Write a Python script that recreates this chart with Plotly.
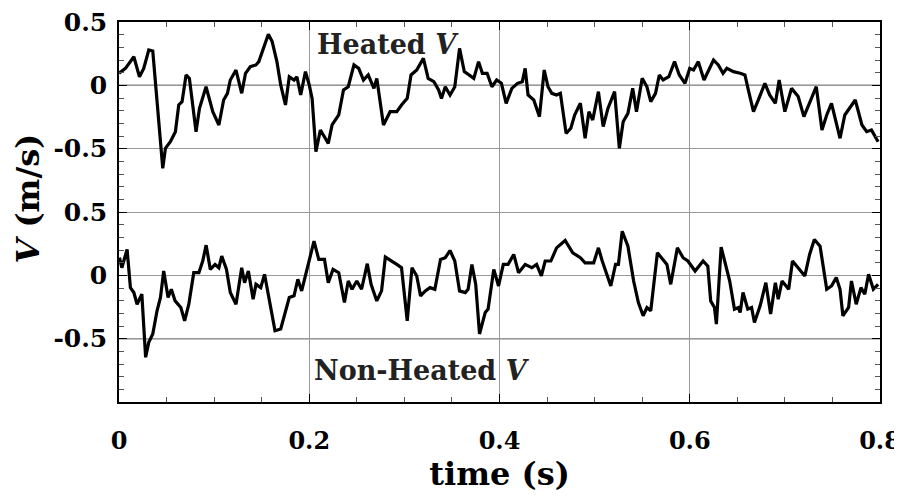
import plotly.graph_objects as go

# Heated V (top panel)
t_heated = [0.000, 0.0068, 0.0156, 0.0215, 0.026, 0.0313, 0.0355, 0.0383, 0.0418, 0.046,
            0.0488, 0.054, 0.0593, 0.0628, 0.0663, 0.0705, 0.074, 0.081, 0.0846, 0.0915,
            0.0986, 0.105, 0.110, 0.114, 0.117, 0.123, 0.129, 0.133, 0.138, 0.144,
            0.147, 0.150, 0.155, 0.157, 0.161, 0.166, 0.170, 0.175, 0.179, 0.184,
            0.187, 0.191, 0.196, 0.200, 0.203, 0.207, 0.2117, 0.215, 0.220, 0.224,
            0.228, 0.231, 0.236, 0.241, 0.247, 0.252, 0.257, 0.262, 0.268, 0.271,
            0.278, 0.285, 0.292, 0.297, 0.303, 0.307, 0.313, 0.320, 0.325, 0.331,
            0.336, 0.339, 0.343, 0.348, 0.353, 0.358, 0.363, 0.368, 0.373, 0.378,
            0.382, 0.387, 0.392, 0.397, 0.402, 0.407, 0.413, 0.419, 0.424, 0.427,
            0.430, 0.436, 0.442, 0.447, 0.451, 0.455, 0.460, 0.464, 0.470, 0.475,
            0.479, 0.485, 0.490, 0.494, 0.498, 0.504, 0.509, 0.514, 0.521, 0.526,
            0.530, 0.535, 0.540, 0.544, 0.550, 0.555, 0.559, 0.564, 0.568, 0.572,
            0.578, 0.584, 0.589, 0.595, 0.600, 0.604, 0.609, 0.615, 0.625, 0.630,
            0.635, 0.639, 0.646, 0.653, 0.658, 0.662, 0.667, 0.672, 0.679, 0.684,
            0.690, 0.694, 0.700, 0.707, 0.714, 0.720, 0.726, 0.733, 0.739, 0.744,
            0.749, 0.758, 0.763, 0.768, 0.774, 0.781, 0.786, 0.791, 0.798]
v_heated = [0.095, 0.134, 0.226, 0.068, 0.134, 0.279, 0.271, 0.029, -0.287, -0.655,
            -0.497, -0.445, -0.366, -0.155, -0.129, 0.082, 0.055, -0.366, -0.182, -0.011,
            -0.208, -0.313, -0.116, -0.063, 0.042, 0.121, -0.063, 0.095, 0.147, 0.161,
            0.187, 0.253, 0.371, 0.403, 0.345, 0.187, 0.003, -0.155, 0.068, 0.042,
            0.068, -0.076, 0.108, 0.003, -0.103, -0.524, -0.353, -0.392, -0.458, -0.313,
            -0.261, -0.234, -0.037, -0.011, 0.161, 0.134, 0.042, 0.082, -0.024, 0.055,
            -0.313, -0.208, -0.208, -0.155, -0.103, 0.082, 0.121, 0.213, 0.055, 0.029,
            -0.037, -0.103, -0.011, -0.076, -0.011, 0.292, 0.108, 0.082, 0.055, 0.187,
            0.095, 0.095, -0.011, 0.042, 0.016, -0.142, -0.024, 0.016, 0.029, 0.134,
            -0.076, -0.116, -0.247, 0.121, -0.011, -0.063, -0.076, -0.063, -0.379, -0.339,
            -0.234, -0.142, -0.418, -0.208, -0.274, -0.050, -0.326, -0.182, -0.050, -0.497,
            -0.287, -0.221, -0.024, -0.208, 0.055, -0.011, -0.129, -0.063, 0.082, 0.042,
            0.068, 0.187, 0.082, 0.016, 0.134, 0.121, 0.187, 0.042, 0.200, 0.161,
            0.095, 0.134, 0.108, 0.095, 0.082, -0.050, -0.208, -0.116, 0.016, -0.076,
            -0.142, 0.042, -0.208, -0.024, -0.089, -0.247, -0.142, -0.011, -0.353, -0.234,
            -0.142, -0.418, -0.234, -0.182, -0.116, -0.313, -0.366, -0.353, -0.445]

# Non-Heated V (bottom panel)
t_nonheated = [0.0005, 0.003, 0.0085, 0.012, 0.0156, 0.019, 0.024, 0.028, 0.0313, 0.0355,
               0.040, 0.0436, 0.047, 0.0516, 0.055, 0.059, 0.065, 0.069, 0.0734, 0.0786,
               0.084, 0.088, 0.0916, 0.096, 0.101, 0.105, 0.108, 0.113, 0.117, 0.123,
               0.129, 0.132, 0.136, 0.141, 0.144, 0.149, 0.153, 0.158, 0.164, 0.170,
               0.175, 0.179, 0.184, 0.188, 0.192, 0.197, 0.205, 0.210, 0.216, 0.220,
               0.225, 0.231, 0.237, 0.241, 0.245, 0.250, 0.255, 0.261, 0.265, 0.271,
               0.276, 0.280, 0.287, 0.292, 0.297, 0.303, 0.308, 0.313, 0.317, 0.322,
               0.327, 0.332, 0.338, 0.343, 0.348, 0.353, 0.358, 0.364, 0.367, 0.371,
               0.375, 0.379, 0.385, 0.388, 0.394, 0.399, 0.404, 0.409, 0.415, 0.420,
               0.427, 0.434, 0.439, 0.444, 0.448, 0.454, 0.460, 0.469, 0.477, 0.485,
               0.490, 0.499, 0.504, 0.508, 0.517, 0.522, 0.525, 0.529, 0.535, 0.541,
               0.546, 0.551, 0.555, 0.559, 0.566, 0.570, 0.576, 0.580, 0.587, 0.593,
               0.598, 0.6056, 0.614, 0.619, 0.622, 0.626, 0.628, 0.633, 0.637, 0.642,
               0.647, 0.651, 0.653, 0.656, 0.661, 0.665, 0.668, 0.674, 0.680, 0.685,
               0.690, 0.693, 0.697, 0.704, 0.708, 0.714, 0.721, 0.726, 0.731, 0.737,
               0.744, 0.749, 0.754, 0.758, 0.761, 0.767, 0.770, 0.775, 0.780, 0.784,
               0.788, 0.793, 0.798]
v_nonheated = [0.139, 0.060, 0.204, -0.097, -0.136, -0.228, -0.149, -0.647, -0.529, -0.463,
               -0.280, -0.175, 0.034, -0.175, -0.110, -0.202, -0.254, -0.359, -0.228, 0.021,
               0.021, 0.113, 0.238, 0.047, 0.086, 0.060, 0.152, 0.047, -0.136, -0.228,
               0.060, -0.058, 0.034, -0.189, -0.071, -0.097, 0.008, -0.202, -0.437, -0.424,
               -0.293, -0.175, -0.162, -0.031, -0.123, 0.034, 0.270, 0.126, 0.126, -0.058,
               0.047, 0.021, -0.215, -0.045, -0.110, -0.045, -0.110, 0.092, -0.071, -0.202,
               -0.123, 0.144, 0.113, 0.086, 0.060, -0.359, 0.060, -0.005, -0.162, -0.123,
               -0.097, -0.110, 0.126, 0.139, 0.196, 0.113, -0.123, -0.136, -0.110, 0.086,
               -0.071, -0.463, -0.293, -0.267, 0.047, -0.084, 0.086, 0.086, 0.165, 0.021,
               0.086, 0.060, 0.086, -0.005, 0.113, 0.113, 0.217, 0.275, 0.178, 0.139,
               0.099, 0.099, 0.217, 0.113, -0.084, 0.086, 0.086, 0.348, 0.230, -0.045,
               -0.215, -0.319, -0.254, -0.280, 0.178, 0.139, 0.086, -0.071, 0.217, 0.139,
               0.113, 0.034, 0.113, 0.073, -0.202, -0.254, -0.385, 0.223, 0.113, -0.045,
               -0.267, -0.254, -0.293, -0.136, -0.267, -0.254, -0.372, -0.241, -0.058, -0.306,
               -0.058, -0.189, -0.045, -0.110, 0.113, 0.060, -0.005, 0.165, 0.283, 0.230,
               -0.110, -0.084, -0.018, -0.110, -0.319, -0.254, -0.045, -0.228, -0.097, -0.149,
               0.008, -0.110, -0.071]

# Vertical offset used to stack the heated panel above the non-heated one
OFFSET = 1.5
y_tickvals = [2.0, 1.5, 1.0, 0.5, 0.0, -0.5]
y_ticktext = ["0.5", "0", "-0.5", "0.5", "0", "-0.5"]
x_tickvals = [0, 0.2, 0.4, 0.6, 0.8]
x_ticktext = ["0", "0.2", "0.4", "0.6", "0.8"]

FONT = "DejaVu Serif"
FS_XTICK = 24
FS_YTICK = 25
FS_TITLE = 32
FS_LABEL = 27

fig = go.Figure()
fig.add_trace(go.Scatter(x=t_heated, y=[v + OFFSET for v in v_heated], mode="lines",
                         line=dict(color="black", width=3.2), showlegend=False))
fig.add_trace(go.Scatter(x=t_nonheated, y=v_nonheated, mode="lines",
                         line=dict(color="black", width=3.2), showlegend=False))

# black reference lines (top zero and bottom -0.5)
for yv in (OFFSET, -0.5):
    fig.add_shape(type="line", xref="paper", x0=0, x1=1, yref="y", y0=yv, y1=yv,
                  line=dict(color="black", width=1.3), layer="below")

fig.add_annotation(x=0.283, y=1.826, xref="x", yref="y", text="Heated <i>V</i>",
                   showarrow=False, font=dict(family=FONT, size=FS_LABEL, color="#222", weight="bold"))
fig.add_annotation(x=0.318, y=-0.755, xref="x", yref="y", text="Non-Heated <i>V</i>",
                   showarrow=False, font=dict(family=FONT, size=FS_LABEL, color="#222", weight="bold"))
# y-axis title (placed slightly above the plot centre, as in the original)
fig.add_annotation(x=0, y=0.5355, xref="paper", yref="paper", xanchor="center", yanchor="middle",
                   xshift=-91, textangle=-90, text="<i>V</i> (m/s)", showarrow=False,
                   font=dict(family=FONT, size=FS_TITLE, color="black", weight="bold"))

fig.update_xaxes(range=[0, 0.8], tickvals=x_tickvals, ticktext=x_ticktext,
                 showgrid=True, gridcolor="#999999", gridwidth=1,
                 showline=True, linecolor="black", linewidth=1.5, mirror="ticks",
                 ticks="inside", ticklen=8, tickcolor="black",
                 minor=dict(tickmode="linear", tick0=0, dtick=0.05, ticks="inside",
                            ticklen=5, tickcolor="#555", showgrid=False),
                 tickfont=dict(family=FONT, size=FS_XTICK, color="black", weight="bold"),
                 ticklabelstandoff=16, ticklabeloverflow="allow", automargin=False,
                 title=dict(text="time (s)", standoff=9,
                            font=dict(family=FONT, size=FS_TITLE, color="black", weight="bold")),
                 zeroline=False)
fig.update_yaxes(range=[-1.0, 2.0], tickvals=y_tickvals, ticktext=y_ticktext,
                 showgrid=True, gridcolor="#999999", gridwidth=1,
                 showline=True, linecolor="black", linewidth=1.5, mirror="ticks",
                 ticks="inside", ticklen=8, tickcolor="black",
                 minor=dict(tickmode="linear", tick0=0, dtick=0.1, ticks="inside",
                            ticklen=5, tickcolor="#555", showgrid=False),
                 tickfont=dict(family=FONT, size=FS_YTICK, color="black", weight="bold"),
                 ticklabelstandoff=5, ticklabeloverflow="allow", automargin=False,
                 zeroline=False)

# the page body adds an 8px margin; the plot area is placed to match the original
fig.update_layout(width=900, height=492, margin=dict(l=111, r=28, t=14, b=98),
                  plot_bgcolor="white", paper_bgcolor="white")

fig.write_html("out.html")
